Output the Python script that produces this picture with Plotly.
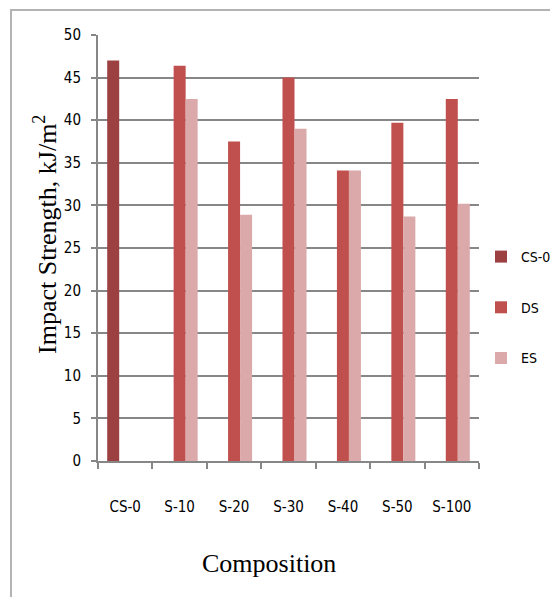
import plotly.graph_objects as go

categories = ["CS-0", "S-10", "S-20", "S-30", "S-40", "S-50", "S-100"]
cs0 = [47.0, None, None, None, None, None, None]
ds = [None, 46.4, 37.5, 45.0, 34.1, 39.7, 42.5]
es = [None, 42.5, 28.9, 39.0, 34.1, 28.7, 30.2]
y_ticks = [0, 5, 10, 15, 20, 25, 30, 35, 40, 45, 50]

OFF = 8  # page body margin
W, H = 558 - 2 * OFF, 605 - 2 * OFF
L, R, T, B = 98, 479, 35, 461  # target pixel positions in the window
pw, ph = R - L, B - T

def px(x):
    return (x - L) / pw

def py(y):
    return (B - y) / ph

narrow = "DejaVu Sans Condensed, Liberation Sans Narrow, sans-serif"
serif = "Liberation Serif, Times New Roman, serif"

fig = go.Figure()
for name, vals, col in [("CS-0", cs0, "#9c4041"), ("DS", ds, "#c0504d"), ("ES", es, "#dba9a9")]:
    fig.add_trace(go.Bar(x=categories, y=vals, name=name, marker_color=col,
                         marker_line_width=0, legendgroup=name))

fig.update_layout(
    width=W, height=H,
    margin=dict(l=L - OFF, r=(558 - OFF) - R, t=T - OFF, b=(605 - OFF) - B, autoexpand=False),
    paper_bgcolor="white", plot_bgcolor="white",
    barmode="group", bargap=0.338, bargroupgap=0,
    font=dict(family=narrow, size=15, color="black"),
    legend=dict(x=px(481), y=py(241), xanchor="left", yanchor="top",
                font=dict(family=narrow, size=14), tracegroupgap=29.5,
                bgcolor="rgba(0,0,0,0)"),
    xaxis=dict(type="category", showgrid=False, showline=True, linecolor="#878787", linewidth=2,
               ticks="outside", tickson="boundaries", ticklen=6, tickwidth=2, tickcolor="#878787",
               tickangle=0, automargin=False,
               ticklabelstandoff=31, tickfont=dict(family=narrow, size=15)),
    yaxis=dict(range=[0, 50], tickvals=y_ticks, showgrid=True, gridcolor="#878787", gridwidth=2,
               showline=True, linecolor="#878787", linewidth=2, zeroline=False, automargin=False,
               ticks="outside", ticklen=5, tickwidth=2, tickcolor="#878787",
               ticklabelstandoff=7, tickfont=dict(family=narrow, size=15)),
    showlegend=True,
)

fig.add_annotation(text="Impact Strength, kJ/m<sup>2</sup>", xref="paper", yref="paper",
                   x=px(45), y=py(235), textangle=-90, showarrow=False,
                   xanchor="center", yanchor="middle",
                   font=dict(family=serif, size=26, color="black"))
fig.add_annotation(text="Composition", xref="paper", yref="paper",
                   x=px(269), y=py(563), showarrow=False,
                   xanchor="center", yanchor="middle",
                   font=dict(family=serif, size=26, color="black"))
fig.add_shape(type="rect", xref="paper", yref="paper",
              x0=px(11), y0=py(700), x1=px(700), y1=py(OFF + 2),
              line=dict(color="#b3b3b3", width=2), fillcolor="rgba(0,0,0,0)", layer="below")

fig.write_html("out.html")
